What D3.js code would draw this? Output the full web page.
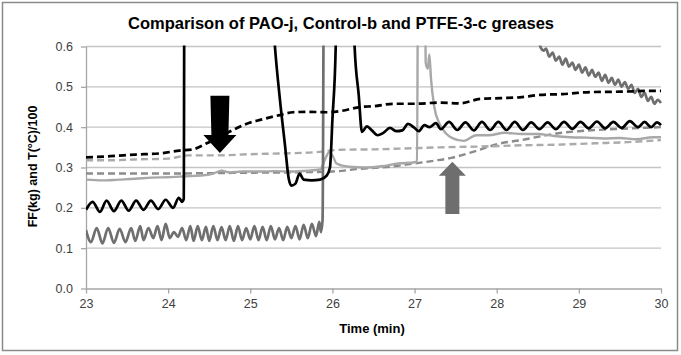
<!DOCTYPE html>
<html>
<head>
<meta charset="utf-8">
<script src="https://cdn.jsdelivr.net/npm/d3@7/dist/d3.min.js"></script>
<style>
  html, body { margin: 0; padding: 0; background: #fff; }
  svg { display: block; }
</style>
</head>
<body>
<svg id="chart" width="681" height="355"></svg>
<script>
// ---------------- DATA ----------------
const chartTitle = "Comparison of PAO-j, Control-b and PTFE-3-c greases";
const xTitle = "Time (min)";
const yTitle = "FF(kg) and T(°C)/100";
const xTicks = [23, 24, 25, 26, 27, 28, 29, 30];
const yTicks = [0.0, 0.1, 0.2, 0.3, 0.4, 0.5, 0.6];

// PAO-j friction (black solid); values above 0.6 run off the top of the plot
const paoFriction = [
  [23.00,0.195],[23.08,0.215],[23.17,0.190],[23.25,0.218],[23.34,0.192],[23.43,0.218],
  [23.52,0.193],[23.61,0.218],[23.70,0.195],[23.79,0.218],[23.88,0.197],[23.97,0.220],
  [24.06,0.200],[24.13,0.225],[24.17,0.215],[24.19,0.222],[24.20,0.950],[25.20,0.950],
  [25.30,0.600],[25.36,0.470],[25.42,0.360],[25.47,0.270],[25.50,0.255],[25.55,0.260],
  [25.60,0.285],[25.65,0.270],[25.75,0.268],[25.85,0.270],[25.93,0.280],[25.97,0.300],
  [26.00,0.420],[26.04,0.600],[26.05,0.950],[26.22,0.950],[26.27,0.600],[26.32,0.480],
  [26.36,0.388],[26.42,0.402],[26.48,0.392],[26.55,0.380],[26.62,0.386],[26.70,0.398],
  [26.78,0.390],[26.85,0.392],[26.92,0.408],[27.00,0.398],[27.05,0.390],[27.12,0.405],
  [27.18,0.400],[27.26,0.410],[27.32,0.395],[27.42,0.413],[27.52,0.393],[27.62,0.412],
  [27.72,0.392],[27.82,0.413],[27.92,0.393],[28.02,0.413],[28.12,0.393],[28.22,0.413],
  [28.32,0.393],[28.42,0.412],[28.52,0.395],[28.62,0.412],[28.72,0.395],[28.82,0.413],
  [28.92,0.396],[29.02,0.413],[29.12,0.397],[29.22,0.414],[29.32,0.397],[29.42,0.413],
  [29.52,0.398],[29.62,0.415],[29.72,0.400],[29.80,0.413],[29.88,0.400],[29.95,0.412],
  [30.00,0.405]
];

// PAO-j temperature/100 (black dashed)
const paoTemp = [
  [23.00,0.325],[23.30,0.328],[23.60,0.332],[23.90,0.335],[24.14,0.342],[24.30,0.345],
  [24.47,0.360],[24.65,0.378],[24.79,0.393],[24.95,0.408],[25.12,0.418],[25.36,0.430],
  [25.52,0.437],[25.70,0.438],[25.93,0.437],[26.10,0.440],[26.34,0.450],[26.50,0.452],
  [26.74,0.458],[27.00,0.458],[27.31,0.461],[27.55,0.459],[27.80,0.470],[28.05,0.472],
  [28.28,0.474],[28.53,0.480],[28.80,0.482],[29.14,0.487],[29.50,0.488],[29.90,0.490],
  [30.00,0.490]
];

// Control-b friction (light grey solid)
const controlFriction = [
  [23.00,0.270],[23.20,0.268],[23.40,0.270],[23.60,0.272],[23.80,0.275],[24.00,0.276],
  [24.20,0.278],[24.40,0.280],[24.55,0.285],[24.65,0.292],[24.75,0.288],[24.90,0.290],
  [25.10,0.290],[25.30,0.291],[25.50,0.290],[25.70,0.292],[25.85,0.295],[25.92,0.325],
  [25.96,0.338],[26.00,0.330],[26.05,0.310],[26.20,0.302],[26.40,0.300],[26.60,0.303],
  [26.80,0.310],[27.00,0.313],[27.03,0.315],[27.045,0.950],[27.12,0.950],[27.135,0.560],
  [27.16,0.545],[27.18,0.580],[27.20,0.520],[27.24,0.450],[27.30,0.410],[27.38,0.385],
  [27.46,0.373],[27.60,0.366],[27.75,0.380],[27.90,0.380],[28.10,0.386],[28.30,0.383],
  [28.50,0.383],[28.70,0.378],[28.90,0.375],[29.10,0.374],[29.30,0.372],[29.50,0.373],
  [29.70,0.370],[29.90,0.375],[30.00,0.375]
];

// Control-b temperature/100 (light grey dashed)
const controlTemp = [
  [23.00,0.318],[23.30,0.318],[23.60,0.320],[24.00,0.322],[24.25,0.330],[24.60,0.330],
  [25.00,0.333],[25.40,0.335],[25.80,0.338],[26.10,0.344],[26.50,0.345],[27.00,0.348],
  [27.30,0.350],[27.80,0.352],[28.30,0.355],[28.80,0.357],[29.20,0.360],[29.60,0.363],
  [30.00,0.368]
];

// PTFE-3-c friction (dark grey solid)
const ptfeFriction = [
  [23.00,0.145],[23.06,0.115],[23.13,0.150],[23.20,0.112],[23.27,0.150],[23.34,0.113],
  [23.41,0.148],[23.48,0.115],[23.55,0.150],[23.60,0.118],[23.66,0.155],[23.70,0.120],
  [23.76,0.150],[23.82,0.125],[23.87,0.155],[23.92,0.120],[23.97,0.160],[24.02,0.125],
  [24.07,0.140],[24.12,0.128],[24.17,0.150],[24.22,0.120],[24.27,0.155],[24.31,0.118],
  [24.36,0.155],[24.41,0.120],[24.46,0.153],[24.50,0.118],[24.55,0.155],[24.60,0.120],
  [24.65,0.152],[24.70,0.120],[24.75,0.155],[24.80,0.118],[24.85,0.155],[24.90,0.120],
  [24.95,0.150],[25.00,0.122],[25.05,0.155],[25.10,0.120],[25.15,0.153],[25.20,0.120],
  [25.25,0.155],[25.30,0.122],[25.35,0.150],[25.40,0.120],[25.45,0.153],[25.50,0.125],
  [25.55,0.155],[25.60,0.122],[25.65,0.158],[25.70,0.125],[25.75,0.160],[25.80,0.130],
  [25.84,0.165],[25.86,0.140],[25.88,0.170],[25.90,0.950],[28.49,0.950],[28.53,0.600],
  [28.57,0.590],[28.60,0.595],[28.64,0.575],[28.68,0.585],[28.72,0.565],[28.76,0.575],
  [28.80,0.555],[28.84,0.570],[28.88,0.550],[28.92,0.560],[28.96,0.542],[29.00,0.555],
  [29.04,0.535],[29.08,0.548],[29.12,0.528],[29.16,0.542],[29.20,0.525],[29.24,0.535],
  [29.28,0.515],[29.32,0.530],[29.36,0.510],[29.40,0.522],[29.44,0.505],[29.48,0.518],
  [29.52,0.500],[29.56,0.512],[29.60,0.495],[29.64,0.505],[29.68,0.485],[29.72,0.495],
  [29.76,0.475],[29.80,0.485],[29.84,0.465],[29.88,0.475],[29.92,0.458],[29.96,0.468],
  [30.00,0.460]
];

// PTFE-3-c temperature/100 (grey dashed)
const ptfeTemp = [
  [23.00,0.285],[23.50,0.285],[24.00,0.285],[24.50,0.286],[25.00,0.287],[25.50,0.288],
  [26.00,0.290],[26.30,0.296],[26.70,0.302],[27.00,0.310],[27.25,0.317],[27.45,0.324],
  [27.65,0.335],[27.85,0.348],[28.05,0.360],[28.30,0.368],[28.50,0.376],[28.75,0.385],
  [29.00,0.390],[29.30,0.394],[29.65,0.397],[30.00,0.400]
];

// ---------------- CHART ----------------
const svg = d3.select("#chart");
const W = 681, H = 355;
const plot = { left: 86, right: 661, top: 46.5, bottom: 288.5 };
const FONT = "'Liberation Sans', Arial, sans-serif";

const x = d3.scaleLinear().domain([23, 30]).range([plot.left, plot.right]);
const y = d3.scaleLinear().domain([0, 0.6]).range([plot.bottom, plot.top]);

svg.append("rect").attr("x", 0).attr("y", 0).attr("width", W).attr("height", H).attr("fill", "#fff");
svg.append("rect").attr("x", 2.5).attr("y", 2.5).attr("width", 675).attr("height", 348)
  .attr("fill", "none").attr("stroke", "#8a8a8a").attr("stroke-width", 1.5);

// gridlines
svg.append("g").selectAll("line").data(yTicks.filter(d => d > 0)).join("line")
  .attr("x1", plot.left).attr("x2", plot.right)
  .attr("y1", d => y(d)).attr("y2", d => y(d))
  .attr("stroke", "#c4c4c4").attr("stroke-width", 1.3);

// y axis
const yAxis = svg.append("g").attr("transform", `translate(${plot.left},0)`)
  .call(d3.axisLeft(y).tickValues(yTicks).tickFormat(d3.format(".1f")).tickSize(5).tickSizeOuter(0));
yAxis.select(".domain").attr("stroke", "#a6a6a6").attr("stroke-width", 1.3);
yAxis.selectAll(".tick line").attr("stroke", "#a6a6a6").attr("stroke-width", 1.3);
yAxis.selectAll(".tick text").attr("font-family", FONT)
  .attr("font-size", 12.5).attr("fill", "#404040").attr("x", -13);

// x axis
const xAxis = svg.append("g").attr("transform", `translate(0,${plot.bottom})`)
  .call(d3.axisBottom(x).tickValues(xTicks).tickFormat(d3.format("d")).tickSize(5).tickSizeOuter(0));
xAxis.select(".domain").attr("stroke", "#a6a6a6").attr("stroke-width", 1.3);
xAxis.selectAll(".tick line").attr("stroke", "#a6a6a6").attr("stroke-width", 1.3);
xAxis.selectAll(".tick text").attr("font-family", FONT)
  .attr("font-size", 12.5).attr("fill", "#404040").attr("y", 11);

// clip
svg.append("clipPath").attr("id", "plotclip").append("rect")
  .attr("x", plot.left).attr("y", plot.top - 1)
  .attr("width", plot.right - plot.left + 2).attr("height", plot.bottom - plot.top + 1);

const line = d3.line().x(d => x(d[0])).y(d => y(d[1])).curve(d3.curveMonotoneX);
const g = svg.append("g").attr("clip-path", "url(#plotclip)");

const series = [
  { data: ptfeTemp, color: "#8c8c8c", width: 2.4, dash: "7,4" },
  { data: controlTemp, color: "#ababab", width: 2.4, dash: "7,4" },
  { data: controlFriction, color: "#a8a8a8", width: 2.4, dash: null },
  { data: ptfeFriction, color: "#6f6f6f", width: 2.7, dash: null },
  { data: paoTemp, color: "#000", width: 2.7, dash: "7,4" },
  { data: paoFriction, color: "#000", width: 2.7, dash: null }
];
series.forEach(s => {
  g.append("path").datum(s.data).attr("d", line)
    .attr("fill", "none").attr("stroke", s.color).attr("stroke-width", s.width)
    .attr("stroke-linejoin", "round")
    .attr("stroke-dasharray", s.dash);
});

// annotation arrows (placed in data coordinates)
function downArrow(t, vTop, vTip, shaft, head, headLen, color) {
  const cx = x(t), yt = y(vTop), ytip = y(vTip), yb = ytip - headLen;
  const pts = [
    [cx - shaft / 2 - 1, yt], [cx + shaft / 2 + 1, yt], [cx + shaft / 2, yb], [cx + head / 2, yb],
    [cx, ytip], [cx - head / 2, yb], [cx - shaft / 2, yb]
  ];
  svg.append("polygon").attr("points", pts.map(p => p.join(",")).join(" ")).attr("fill", color);
}
function upArrow(t, vBottom, vTip, shaft, head, headLen, color) {
  const cx = x(t), yb = y(vBottom), ytip = y(vTip), yh = ytip + headLen;
  const pts = [
    [cx - shaft / 2, yb], [cx + shaft / 2, yb], [cx + shaft / 2, yh], [cx + head / 2, yh],
    [cx, ytip], [cx - head / 2, yh], [cx - shaft / 2, yh]
  ];
  svg.append("polygon").attr("points", pts.map(p => p.join(",")).join(" ")).attr("fill", color);
}
downArrow(24.63, 0.478, 0.336, 17, 33, 18, "#000");
upArrow(27.46, 0.185, 0.314, 14, 27, 14, "#6e6e6e");

// titles
svg.append("text").attr("x", 341).attr("y", 29).attr("text-anchor", "middle")
  .attr("font-family", FONT).attr("font-weight", "bold")
  .attr("font-size", 16.5).attr("fill", "#000").text(chartTitle);
svg.append("text").attr("x", 372).attr("y", 333).attr("text-anchor", "middle")
  .attr("font-family", FONT).attr("font-weight", "bold")
  .attr("font-size", 13).attr("fill", "#000").text(xTitle);
svg.append("text").attr("transform", `translate(37,${(plot.top + plot.bottom) / 2 - 1}) rotate(-90)`)
  .attr("text-anchor", "middle")
  .attr("font-family", FONT).attr("font-weight", "bold")
  .attr("font-size", 12.5).attr("fill", "#000").text(yTitle);
</script>
</body>
</html>
